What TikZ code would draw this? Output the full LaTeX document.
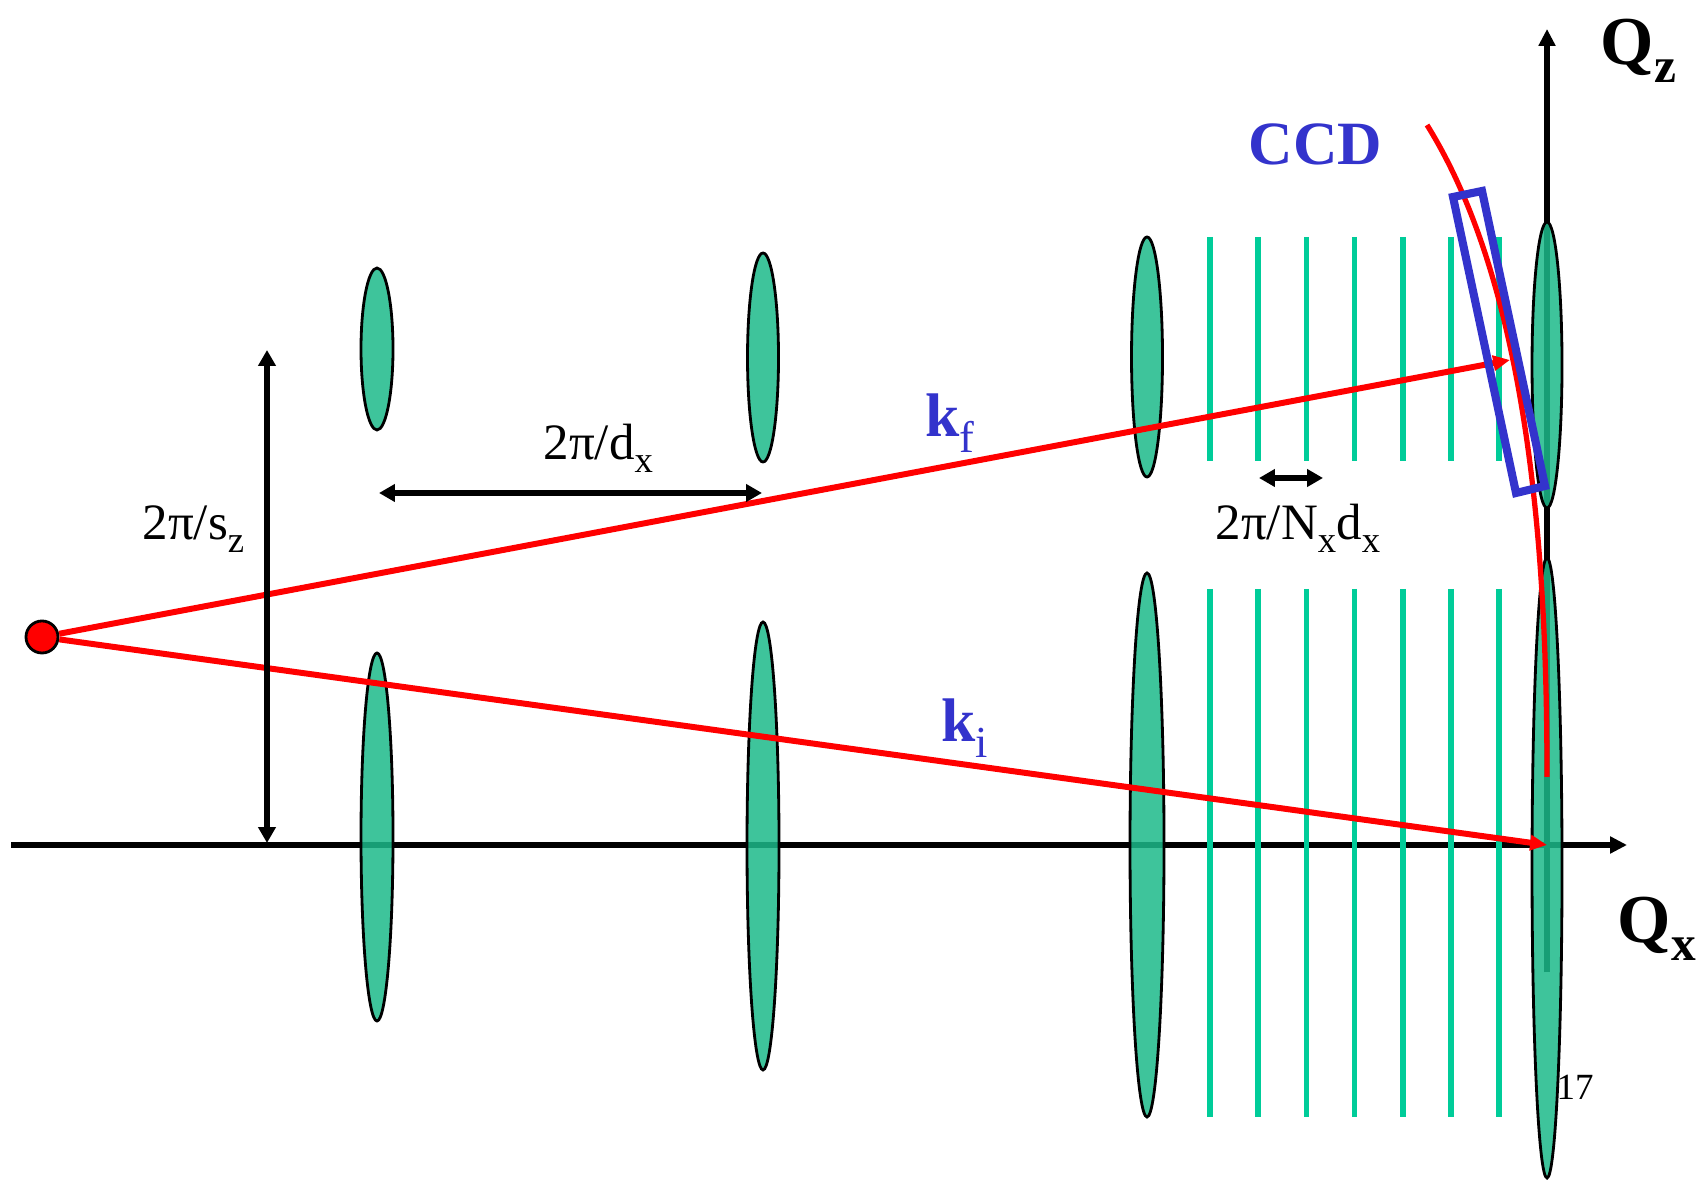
\documentclass[tikz,border=0pt]{standalone}
\usepackage{fontspec}
\setmainfont{Liberation Serif}
\usepackage{graphicx}
\usetikzlibrary{arrows.meta}
\definecolor{spotgreen}{HTML}{1CBA8A}
\definecolor{fringegreen}{HTML}{00CC99}
\definecolor{ccdblue}{HTML}{3333CC}
\definecolor{rayred}{HTML}{FF0000}
\newcommand{\lowidx}[1]{\raisebox{-0.25em}{\scalebox{0.72}{#1}}}

\begin{document}
\begin{tikzpicture}[x=0.01cm, y=0.01cm]
  \tikzset{
    axis/.style={line width=1.6pt, -{Triangle[length=4.8pt, width=4.6pt]}},
    span/.style={line width=1.6pt, {Triangle[length=4.5pt, width=4.8pt]}-{Triangle[length=4.5pt, width=4.8pt]}},
    ray/.style={line width=1.7pt, rayred, -{Triangle[length=4.8pt, width=4.2pt]}},
    spot/.style={draw=black, line width=0.8pt, fill=spotgreen, fill opacity=0.85},
    fringe/.style={fringegreen, line width=1.6pt},
    lbl/.style={inner sep=0pt, anchor=base west, font=\fontsize{14.5}{17}\selectfont},
    bigbold/.style={lbl, font=\fontsize{17.5}{20}\selectfont\bfseries},
  }
  \useasboundingbox (0,0) rectangle (1704,1179);

  % reciprocal space axes
  \coordinate (orig) at (1547,334);
  \coordinate (xstart) at (11,334);
  \coordinate (xend) at (1627,334);
  \coordinate (zstart) at (1547,207);
  \coordinate (zend) at (1547,1150);
  \draw[axis] (xstart) -- (xend);
  \draw[axis] (zstart) -- (zend);

  % rods of the lattice
  \foreach \cx/\cy/\rx/\ry in {377/830/16/81, 763/821.5/15.5/104.5, 1147/822/15.5/120, 1547/814/15/143,
                               377/342/16/184, 763/333/16/224, 1147/334/17/272, 1547/311/15/310}
    \path[spot] (\cx,\cy) ellipse [x radius={\rx*0.01cm}, y radius={\ry*0.01cm}];

  % finite size fringes
  \foreach \i in {0,...,6} {
    \draw[fringe] ({1210+48.2*\i},942) -- ({1210+48.2*\i},718);
    \draw[fringe] ({1210+48.2*\i},590) -- ({1210+48.2*\i},62);
  }

  % incident and scattered wave vectors
  \node[circle, draw=black, line width=0.8pt, fill=rayred, minimum size=0.32cm, inner sep=0pt] (source) at (42,542) {};
  \coordinate (kfend) at (1510,819);
  \draw[ray] (source) -- (kfend);
  \draw[ray] (source) -- (orig);

  % Ewald sphere and detector
  \coordinate (ewtop) at (1427,1054);
  \coordinate (ewbot) at (1547,402);
  \draw[rayred, line width=1.5pt] (ewtop) .. controls (1533,884) and (1547,602) .. (ewbot);
  \draw[ccdblue, line width=2.3pt] (1453,982) -- (1482,988) -- (1545,693) -- (1516,686) -- cycle;

  % spacings
  \coordinate (sztop) at (267,829);
  \coordinate (szbot) at (267,336);
  \coordinate (dxleft) at (379,686);
  \coordinate (dxright) at (762,686);
  \coordinate (ndleft) at (1259,701);
  \coordinate (ndright) at (1323,701);
  \draw[span] (sztop) -- (szbot);
  \draw[span] (dxleft) -- (dxright);
  \draw[span] (ndleft) -- (ndright);

  % labels
  \node[lbl] (szlab) at (142,639) {2π/s\lowidx{z}};
  \node[lbl] (dxlab) at (543,719) {2π/d\lowidx{x}};
  \node[lbl] (ndlab) at (1215,639) {2π/N\lowidx{x}d\lowidx{x}};
  \node[bigbold, text=ccdblue] (kflab) at (925,742) {k\lowidx{\mdseries f}};
  \node[bigbold, text=ccdblue] (kilab) at (941,437) {k\lowidx{\mdseries i}};
  \node[bigbold, text=ccdblue] (ccdlab) at (1248,1014) {CCD};
  \node[lbl, font=\fontsize{19.5}{22}\selectfont\bfseries] (qzlab) at (1600,1114) {Q\lowidx{z}};
  \node[lbl, font=\fontsize{19.5}{22}\selectfont\bfseries] (qxlab) at (1617,236) {Q\lowidx{x}};
  \node[lbl, font=\fontsize{10.5}{12}\selectfont] (pagenum) at (1556,80) {17};
\end{tikzpicture}
\end{document}
